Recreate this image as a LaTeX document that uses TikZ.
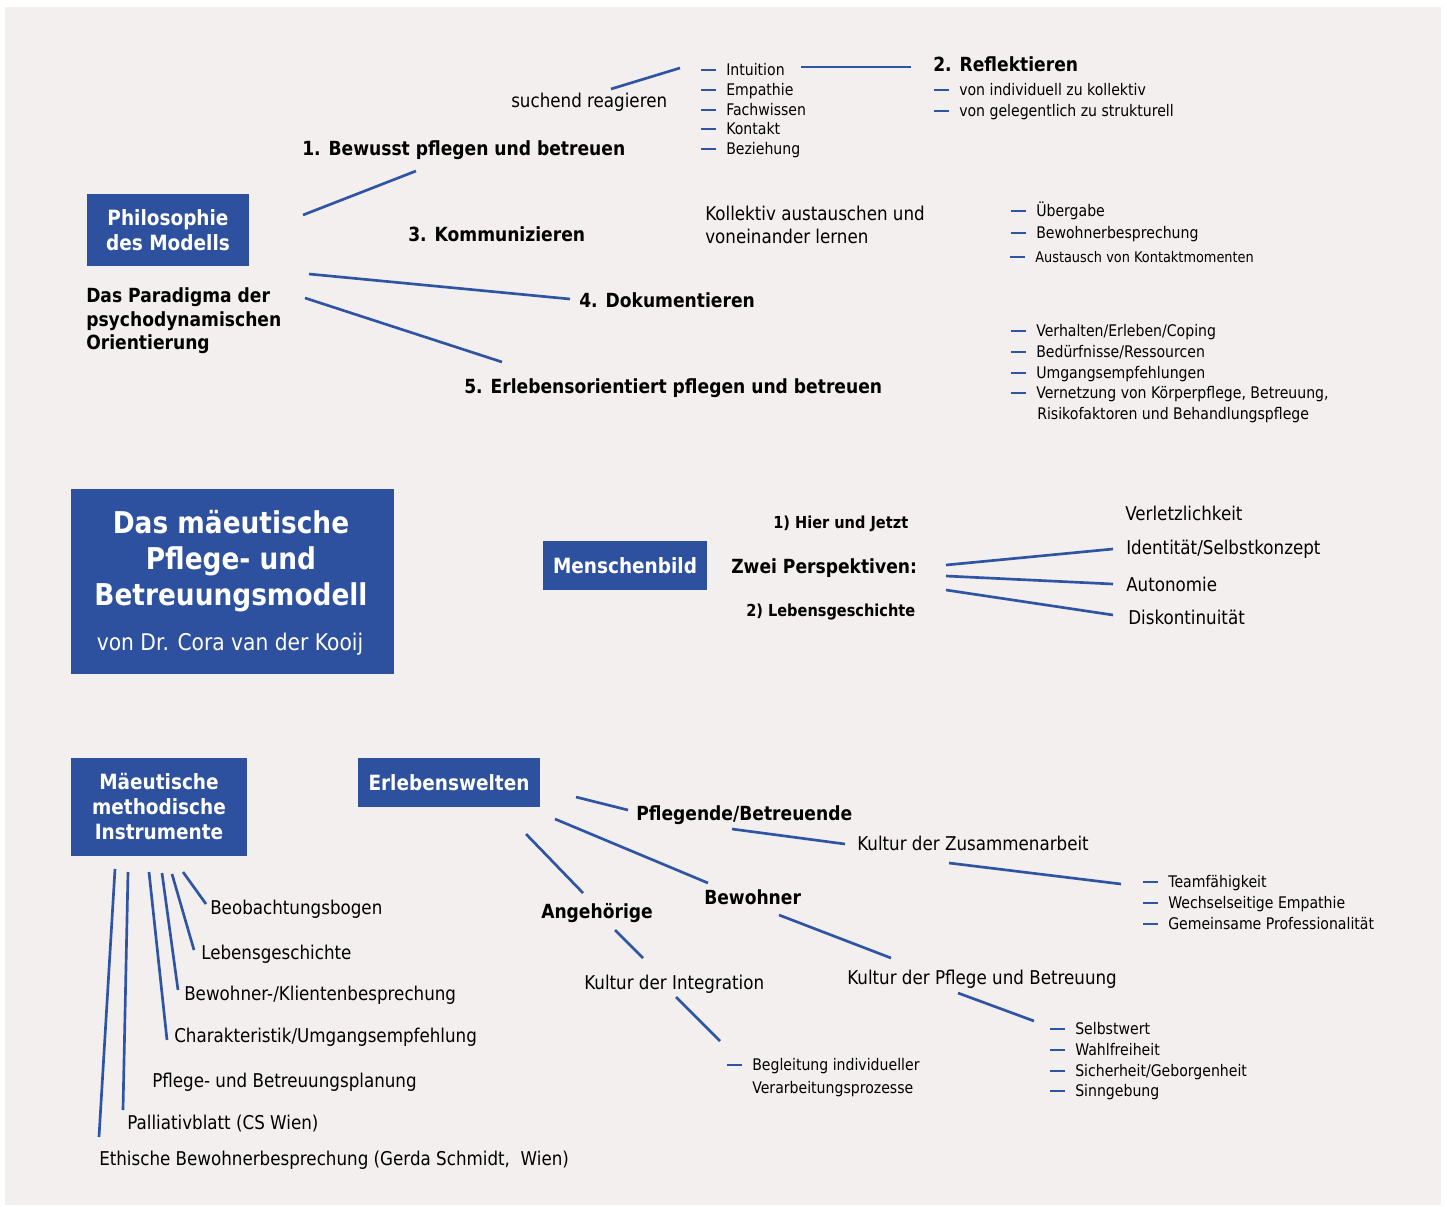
\documentclass[tikz,border=0pt]{standalone}
\usepackage{fontspec}
\setmainfont{DejaVu Sans}[FakeStretch=0.88]
\definecolor{boxblue}{HTML}{2E519F}
\definecolor{lineblue}{HTML}{2F54A3}
\definecolor{paper}{HTML}{F2EFEE}

\begin{document}
\begin{tikzpicture}[x=0.75pt,y=-0.75pt,
  box/.style={fill=boxblue,text=white,align=center,inner sep=0pt,
    font=\bfseries\fontsize{15.75}{18.75}\selectfont},
  head/.style={anchor=west,inner sep=0pt,yshift=-2.25pt,text height=10.8pt,text depth=3.4pt,
    font=\bfseries\fontsize{14.6}{17.6}\selectfont},
  sub/.style={anchor=west,inner sep=0pt,yshift=-1.5pt,text height=9.2pt,text depth=2.9pt,
    font=\bfseries\fontsize{12.4}{15}\selectfont},
  txt/.style={anchor=west,inner sep=0pt,yshift=-2.25pt,text height=10.5pt,text depth=3.3pt,
    font=\fontsize{14.25}{17.25}\selectfont},
  multi/.style={anchor=west,inner sep=0pt,align=left,
    font=\fontsize{14.25}{17.25}\selectfont},
  itm/.style={anchor=west,inner sep=0pt,yshift=-1.5pt,text height=8.9pt,text depth=2.8pt,
    font=\fontsize{12}{15}\selectfont},
  link/.style={draw=lineblue,line width=2pt},
  bul/.style={draw=lineblue,line width=1.9pt}]

\fill[white] (0,0) rectangle (1447,1207);
\fill[paper] (5,7) rectangle (1441,1205);

\node[box,minimum width=121.5pt,minimum height=54pt] (phil) at (168,230) {Philosophie\\des Modells};
\node[multi,font=\bfseries\fontsize{14.6}{17.6}\selectfont] (parad) at (86,321) {Das Paradigma der\\psychodynamischen\\Orientierung};
\node[head] (bewusst) at (302,148) {1. Bewusst pflegen und betreuen};
\node[head] (reflekt) at (933,64) {2. Reflektieren};
\node[head] (komm) at (408,234) {3. Kommunizieren};
\node[head] (doku) at (579,300) {4. Dokumentieren};
\node[head] (erleb) at (464,386) {5. Erlebensorientiert pflegen und betreuen};
\node[txt] (suchend) at (511,100) {suchend reagieren};
\node[itm] (intu) at (726,69) {Intuition};
\node[itm] (empa) at (726,89) {Empathie};
\node[itm] (fach) at (726,109) {Fachwissen};
\node[itm] (kont) at (726,128) {Kontakt};
\node[itm] (bez) at (726,148) {Beziehung};
\node[itm] (indiv) at (959,89) {von individuell zu kollektiv};
\node[itm] (gelegen) at (959,110) {von gelegentlich zu strukturell};
\node[multi] (koll) at (705,225) {Kollektiv austauschen und\\voneinander lernen};
\node[itm] (ueber) at (1036,210) {Übergabe};
\node[itm] (bewbes) at (1036,232) {Bewohnerbesprechung};
\node[itm,font=\fontsize{11}{13}\selectfont] (aust) at (1035,256) {Austausch von Kontaktmomenten};
\node[itm] (verh) at (1036,330) {Verhalten/Erleben/Coping};
\node[itm] (bed) at (1036,351) {Bedürfnisse/Ressourcen};
\node[itm] (umg) at (1036,372) {Umgangsempfehlungen};
\node[itm] (vern) at (1036,392) {Vernetzung von Körperpflege, Betreuung,};
\node[itm] (vern2) at (1037,413) {Risikofaktoren und Behandlungspflege};

\node[box,minimum width=242.25pt,minimum height=138.75pt] (modell) at (232.5,581.5) {};
\node[box,fill=none,font=\bfseries\fontsize{22.5}{27}\selectfont] (titel) at (231,561) {Das mäeutische\\Pflege- und\\Betreuungsmodell};
\node[box,fill=none,font=\fontsize{17.25}{20}\selectfont] (autor) at (230,644) {von Dr. Cora van der Kooij};
\node[box,minimum width=123pt,minimum height=36.75pt] (mensch) at (625,565.5) {Menschenbild};
\node[sub] (hier) at (773,522) {1) Hier und Jetzt};
\node[head] (zwei) at (731,566) {Zwei Perspektiven:};
\node[sub] (leben) at (746,610) {2) Lebensgeschichte};
\node[txt] (verl) at (1125,513) {Verletzlichkeit};
\node[txt] (ident) at (1126,547) {Identität/Selbstkonzept};
\node[txt] (auto) at (1126,584) {Autonomie};
\node[txt] (disk) at (1128,617) {Diskontinuität};

\node[box,minimum width=132pt,minimum height=73.5pt,text depth=1.5pt] (instr) at (159,807) {Mäeutische\\methodische\\Instrumente};
\node[box,minimum width=136.5pt,minimum height=36.75pt] (erlw) at (449,782.5) {Erlebenswelten};
\node[txt] (beob) at (210,907) {Beobachtungsbogen};
\node[txt] (lebg) at (201,952) {Lebensgeschichte};
\node[txt] (bewkl) at (184,993) {Bewohner-/Klientenbesprechung};
\node[txt] (chara) at (174,1035) {Charakteristik/Umgangsempfehlung};
\node[txt] (planung) at (152,1080) {Pflege- und Betreuungsplanung};
\node[txt] (palli) at (127,1122) {Palliativblatt (CS Wien)};
\node[txt] (ethik) at (99,1158) {Ethische Bewohnerbesprechung (Gerda Schmidt,\ \ Wien)};
\node[head] (pfleg) at (636,813) {Pflegende/Betreuende};
\node[head] (bewo) at (704,897) {Bewohner};
\node[head] (angeh) at (541,911) {Angehörige};
\node[txt] (kzus) at (857,843) {Kultur der Zusammenarbeit};
\node[txt] (kpfl) at (847,977) {Kultur der Pflege und Betreuung};
\node[txt] (kint) at (584,982) {Kultur der Integration};
\node[itm] (team) at (1168,881) {Teamfähigkeit};
\node[itm] (wechs) at (1168,902) {Wechselseitige Empathie};
\node[itm] (gem) at (1168,923) {Gemeinsame Professionalität};
\node[itm] (selbst) at (1075,1028) {Selbstwert};
\node[itm] (wahl) at (1075,1049) {Wahlfreiheit};
\node[itm] (sich) at (1075,1070) {Sicherheit/Geborgenheit};
\node[itm] (sinn) at (1075,1090) {Sinngebung};
\node[itm] (begl) at (752,1064) {Begleitung individueller};
\node[itm] (begl2) at (752,1087) {Verarbeitungsprozesse};

\foreach \n in {intu,empa,fach,kont,bez,indiv,gelegen,ueber,bewbes,aust,verh,bed,umg,vern,
  team,wechs,gem,selbst,wahl,sich,sinn,begl}
  \draw[bul] (\n.west) ++(-25,-1) -- ++(15,0);

\coordinate (phil-a) at (303,215); \coordinate (bewusst-a) at (416,171);
\coordinate (phil-b) at (309,274); \coordinate (doku-a) at (570,299);
\coordinate (phil-c) at (305,298); \coordinate (erleb-a) at (502,362);
\coordinate (suchend-a) at (611,89); \coordinate (intu-a) at (680,68);
\coordinate (intu-b) at (801,67); \coordinate (reflekt-a) at (911,67);
\draw[link] (phil-a) -- (bewusst-a);
\draw[link] (phil-b) -- (doku-a);
\draw[link] (phil-c) -- (erleb-a);
\draw[link] (suchend-a) -- (intu-a);
\draw[link] (intu-b) -- (reflekt-a);

\coordinate (zwei-a) at (946,565); \coordinate (ident-a) at (1113,549);
\coordinate (zwei-b) at (946,576); \coordinate (auto-a) at (1113,584);
\coordinate (zwei-c) at (946,590); \coordinate (disk-a) at (1113,615);
\draw[link] (zwei-a) -- (ident-a);
\draw[link] (zwei-b) -- (auto-a);
\draw[link] (zwei-c) -- (disk-a);

\coordinate (erlw-a) at (576,797); \coordinate (pfleg-a) at (628,810);
\coordinate (erlw-b) at (555,819); \coordinate (bewo-a) at (708,883);
\coordinate (erlw-c) at (526,834); \coordinate (angeh-a) at (583,893);
\coordinate (pfleg-b) at (732,829); \coordinate (kzus-a) at (845,844);
\coordinate (bewo-b) at (779,915); \coordinate (kpfl-a) at (891,958);
\coordinate (angeh-b) at (615,930); \coordinate (kint-a) at (643,958);
\coordinate (kint-b) at (676,997); \coordinate (begl-a) at (720,1041);
\coordinate (kzus-b) at (949,863); \coordinate (team-a) at (1121,884);
\coordinate (kpfl-b) at (958,993); \coordinate (selbst-a) at (1034,1021);
\draw[link] (erlw-a) -- (pfleg-a);
\draw[link] (erlw-b) -- (bewo-a);
\draw[link] (erlw-c) -- (angeh-a);
\draw[link] (pfleg-b) -- (kzus-a);
\draw[link] (bewo-b) -- (kpfl-a);
\draw[link] (angeh-b) -- (kint-a);
\draw[link] (kint-b) -- (begl-a);
\draw[link] (kzus-b) -- (team-a);
\draw[link] (kpfl-b) -- (selbst-a);

\coordinate (instr-a) at (115,869); \coordinate (ethik-a) at (99,1137);
\coordinate (instr-b) at (128,872); \coordinate (palli-a) at (123,1110);
\coordinate (instr-c) at (149,872); \coordinate (chara-a) at (167,1040);
\coordinate (instr-d) at (162,873); \coordinate (bewkl-a) at (178,990);
\coordinate (instr-e) at (172,874); \coordinate (lebg-a) at (194,950);
\coordinate (instr-f) at (183,872); \coordinate (beob-a) at (206,904);
\draw[link] (instr-a) -- (ethik-a);
\draw[link] (instr-b) -- (palli-a);
\draw[link] (instr-c) -- (chara-a);
\draw[link] (instr-d) -- (bewkl-a);
\draw[link] (instr-e) -- (lebg-a);
\draw[link] (instr-f) -- (beob-a);
\end{tikzpicture}
\end{document}
